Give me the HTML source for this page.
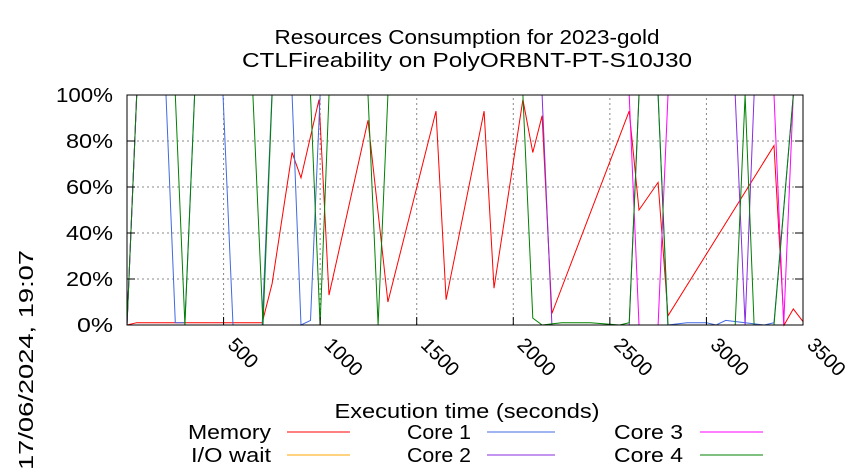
<!DOCTYPE html>
<html><head><meta charset="utf-8"><style>
body{margin:0;background:#fff;}
svg{display:block;font-family:"Liberation Sans",sans-serif;}
</style></head><body>
<svg id="chart" width="850" height="475" viewBox="0 0 850 475">
<text x="467" y="44" font-size="20" text-anchor="middle" textLength="385" lengthAdjust="spacingAndGlyphs">Resources Consumption for 2023-gold</text>
<text x="467" y="67" font-size="20" text-anchor="middle" textLength="450" lengthAdjust="spacingAndGlyphs">CTLFireability on PolyORBNT-PT-S10J30</text>
<g id="grid"></g>
<g id="series"></g>
<rect x="127" y="95" width="676" height="230" fill="none" stroke="#000" stroke-width="1"/>
<g id="axes"></g>
<text x="467" y="418" font-size="20" text-anchor="middle" textLength="265" lengthAdjust="spacingAndGlyphs">Execution time (seconds)</text>
<text transform="translate(33,360) rotate(-90)" font-size="20" text-anchor="middle" textLength="220" lengthAdjust="spacingAndGlyphs">17/06/2024, 19:07</text>
<g id="legend"></g>
</svg>
<script>
const xTicks=[500,1000,1500,2000,2500,3000,3500];
const yTicks=[0,20,40,60,80,100];
const seriesNames=["Memory","I/O wait","Core 1","Core 2","Core 3","Core 4"];
const seriesColors=["#ff0000","#ffa500","#4169e1","#8a2be2","#ff00ff","#008000"];
const memT=[0,50,100,700,751,855,901,994,1046,1248,1351,1600,1652,1849,1900,2050,2101,2149,2200,2600,2651,2750,2801,3350,3402,3450,3500];
const memV=[0,1,1,1,18,75,64,98,13,89,10,93,11,93,16,98,75,91,5,93,50,62,4,78,0,7,1.5];
const ioT=[0,3500];
const ioV=[0,0];
const c1T=[0,50,202,250,300,350,497,549,700,750,855,901,950,1000,2750,2800,2900,3000,3050,3100,3200,3300,3350,3450,3500];
const c1V=[0,100,100,1,1,100,100,0,0,100,100,0,2,100,100,0,1,1,0,2,1,0,1,100,100];
const c2T=[0,50,2149,2200,2600,2651,3149,3200,3247,3350,3450,3500];
const c2V=[0,100,100,0,0,100,100,0,100,100,100,100];
const c3T=[0,50,2600,2651,2750,2801,3350,3400,3450,3500];
const c3V=[0,100,100,0,0,100,100,0,100,100];
const c4T=[0,50,250,300,350,652,704,751,950,1000,1046,1248,1300,1351,2050,2101,2149,2250,2400,2550,2600,2651,2750,2801,3149,3200,3247,3350,3450,3500];
const c4V=[0,100,100,0,100,100,0,100,100,0,100,100,0,100,100,3,0,1,1,0,1,100,100,0,0,100,0,0,100,100];
const X0=127,X1=803,Y0=325,Y1=95;
const xs=t=>X0+t*(X1-X0)/3500;
const ys=v=>Y0-v*(Y0-Y1)/100;
const NS="http://www.w3.org/2000/svg";
const mk=(tag,attrs,parent)=>{const e=document.createElementNS(NS,tag);for(const k in attrs)e.setAttribute(k,attrs[k]);parent.appendChild(e);return e;};
const grid=document.getElementById('grid'),axes=document.getElementById('axes');
yTicks.forEach(v=>{
  if(v>0&&v<100){const g=mk('line',{x1:X0,x2:X1,y1:ys(v),y2:ys(v),stroke:'#888','stroke-dasharray':'2,3','stroke-width':1},grid);
  
  }
  const t=mk('line',{x1:X0,x2:X0+8,y1:ys(v),y2:ys(v),stroke:'#000'},axes);
  
  
  const r=mk('line',{x1:X1-8,x2:X1,y1:ys(v),y2:ys(v),stroke:'#000'},axes);
  
  
  const l=mk('text',{x:113,y:ys(v)+7,'font-size':20,'text-anchor':'end',textLength:(v===100?57:(v===0?36:47)),lengthAdjust:'spacingAndGlyphs'},axes);
  l.textContent=v+'%';
  
  
});
xTicks.forEach(v=>{
  if(v<3500){const g=mk('line',{x1:xs(v),x2:xs(v),y1:Y0,y2:Y1,stroke:'#888','stroke-dasharray':'2,3','stroke-width':1},grid);
  
  }
  const t=mk('line',{x1:xs(v),x2:xs(v),y1:Y0,y2:Y0-8,stroke:'#000'},axes);
  
  
  const l=mk('text',{transform:`translate(${xs(v)+3},${Y0+21}) rotate(45)`,'font-size':20},axes);
  l.textContent=v;
  
  
});
const ser=document.getElementById('series');
[[memT,memV],[ioT,ioV],[c1T,c1V],[c2T,c2V],[c3T,c3V],[c4T,c4V]].forEach((d,i)=>{
  const pts=d[0].map((t,j)=>xs(t).toFixed(1)+','+ys(d[1][j]).toFixed(1)).join(' ');
  const p=mk('polyline',{points:pts,fill:'none',stroke:seriesColors[i],'stroke-width':1},ser);
  
  
});
const leg=document.getElementById('legend');
const lx=[[271,287,350],[471,487,555],[683,700,763]];
const lw=[83,80,64,64,69,69];
seriesNames.forEach((n,i)=>{
  const c=Math.floor(i/2),r=i%2,y=439+r*23;
  const t=mk('text',{x:lx[c][0],y:y,'font-size':20,'text-anchor':'end',textLength:lw[i],lengthAdjust:'spacingAndGlyphs'},leg);
  t.textContent=n;
  
  
  const l=mk('line',{x1:lx[c][1],x2:lx[c][2],y1:y-7,y2:y-7,stroke:seriesColors[i],'stroke-width':1},leg);
  
  
});
</script>
</body></html>
